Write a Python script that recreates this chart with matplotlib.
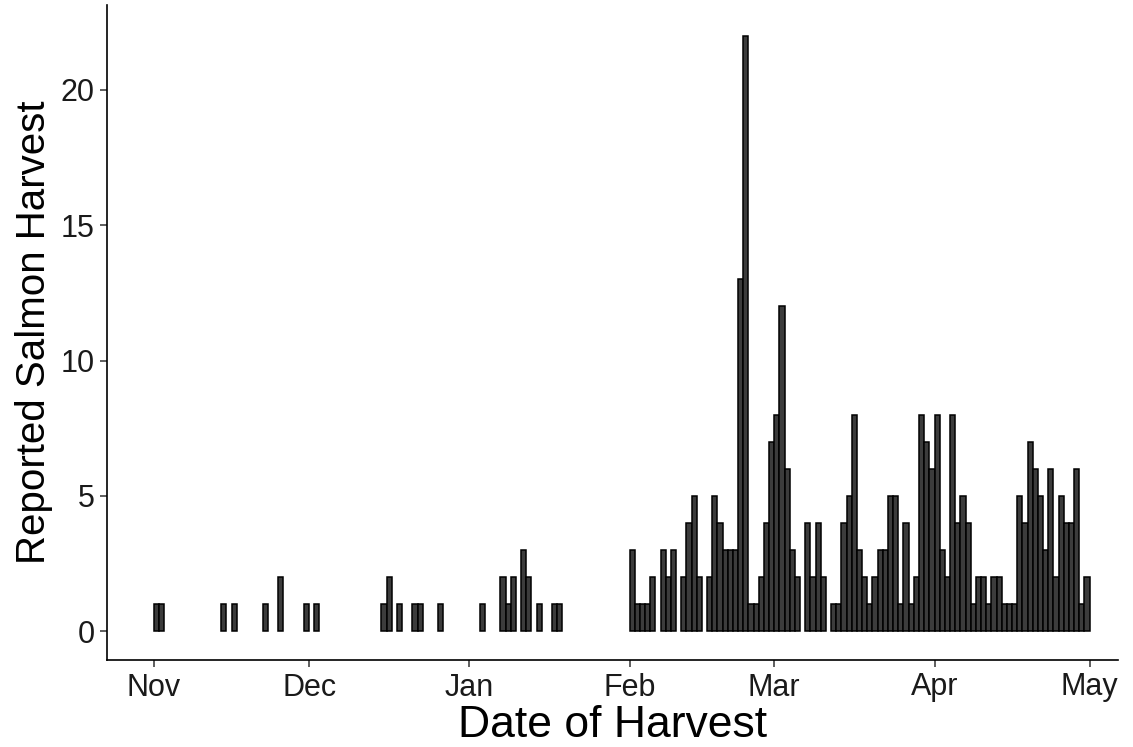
import matplotlib
matplotlib.use('Agg')
import matplotlib.pyplot as plt
import matplotlib.dates as mdates
import pandas as pd

plt.rcParams['font.family'] = ['Liberation Sans', 'DejaVu Sans']

# scattered early-season reports (Nov - Jan)
early_dates = ['2018-11-01', '2018-11-02', '2018-11-14', '2018-11-16', '2018-11-22',
               '2018-11-25', '2018-11-30', '2018-12-02', '2018-12-15', '2018-12-16',
               '2018-12-18', '2018-12-21', '2018-12-22', '2018-12-26', '2019-01-03',
               '2019-01-07', '2019-01-08', '2019-01-09', '2019-01-11', '2019-01-12',
               '2019-01-14', '2019-01-17', '2019-01-18']
early_counts = [1, 1, 1, 1, 1, 2, 1, 1, 1, 2, 1, 1, 1, 1, 1, 2, 1, 2, 3, 2, 1, 1, 1]

# daily reports, Feb 1 onwards
feb_counts = [3, 1, 1, 1, 2, 0, 3, 2, 3, 0, 2, 4, 5, 2, 0, 2, 5, 4, 3, 3, 3, 13, 22, 1, 1, 2, 4, 7]
mar_counts = [8, 12, 6, 3, 2, 0, 4, 2, 4, 2, 0, 1, 1, 4, 5, 8, 3, 2, 1, 2, 3, 3, 5, 5, 1, 4, 1, 2, 8, 7, 6]
apr_counts = [8, 3, 2, 8, 4, 5, 4, 1, 2, 2, 1, 2, 2, 1, 1, 1, 5, 4, 7, 6, 5, 3, 6, 2, 5, 4, 4, 6, 1, 2]

spring_counts = feb_counts + mar_counts + apr_counts
spring_dates = pd.date_range('2019-02-01', periods=len(spring_counts), freq='D')

dates = list(pd.to_datetime(early_dates)) + list(spring_dates)
counts = early_counts + spring_counts
dates = [d for d, c in zip(dates, counts) if c > 0]
counts = [c for c in counts if c > 0]

fig = plt.figure(figsize=(11.33, 7.47), dpi=100)
ax = fig.add_axes([107/1133, 87/747, (1118-107)/1133, (660-5)/747])

# one-day bins, each bar covers [day, day+1)
ax.bar(dates, counts, width=1.0, align='edge', color='#3c3c3c', edgecolor='black', linewidth=1.1)

start = mdates.date2num(pd.Timestamp('2018-11-01'))
ax.set_xlim(start - 9.1, start + 186.5)
ax.set_ylim(-1.07, 23.14)
ax.set_yticks([0, 5, 10, 15, 20])
ax.xaxis.set_major_locator(mdates.MonthLocator())
ax.xaxis.set_major_formatter(mdates.DateFormatter('%b'))

for s in ['top', 'right']:
    ax.spines[s].set_visible(False)
for s in ['left', 'bottom']:
    ax.spines[s].set_linewidth(1.2)
    ax.spines[s].set_color('black')

ax.tick_params(length=5, width=1.1, labelsize=22, color='#333333', labelcolor='#1a1a1a', pad=4)
ax.set_xlabel('Date of Harvest', fontsize=32, labelpad=2)
ax.set_ylabel('Reported Salmon Harvest', fontsize=29, labelpad=5)

fig.savefig('out.png', dpi=100)
